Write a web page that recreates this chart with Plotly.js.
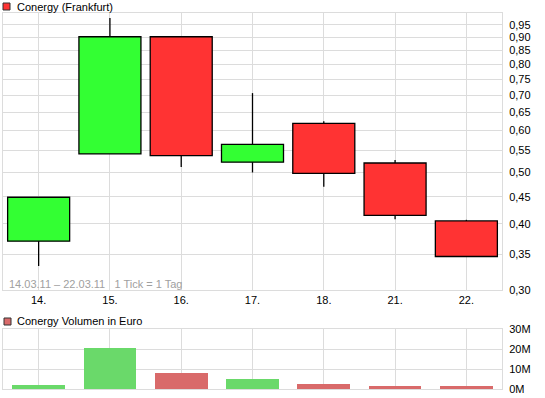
<!DOCTYPE html>
<html>
<head>
<meta charset="utf-8">
<script src="https://cdn.plot.ly/plotly-3.0.1.min.js"></script>
<style>html,body{margin:0;padding:0;background:#fff;}#chart{width:545px;height:398px;}</style>
</head>
<body>
<div id="chart"></div>
<script>
// ---- data ----
const categories = ['14.', '15.', '16.', '17.', '18.', '21.', '22.'];
const openVals  = [0.371, 0.542, 0.902, 0.523, 0.619, 0.521, 0.405];
const closeVals = [0.449, 0.902, 0.538, 0.565, 0.498, 0.415, 0.347];
const highVals  = [0.449, 0.978, 0.902, 0.706, 0.625, 0.528, 0.407];
const lowVals   = [0.333, 0.542, 0.512, 0.500, 0.470, 0.408, 0.347];
const volumeVals = [2.0e6, 20.6e6, 8.1e6, 5.0e6, 2.5e6, 1.5e6, 1.5e6];
const priceTicks = [0.30, 0.35, 0.40, 0.45, 0.50, 0.55, 0.60, 0.65, 0.70, 0.75, 0.80, 0.85, 0.90, 0.95];
const volTicks = [0, 1e7, 2e7, 3e7];
const volTickText = ['0M', '10M', '20M', '30M'];
const titleMain = 'Conergy (Frankfurt)';
const titleVol = 'Conergy Volumen in Euro';
const rangeNote = '14.03.11 \u2013 22.03.11   1 Tick = 1 Tag';

// ---- derived ----
const up = openVals.map((o, i) => closeVals[i] >= o);
const bodyBase = openVals.map((o, i) => Math.min(o, closeVals[i]));
const bodyLen = openVals.map((o, i) => Math.abs(closeVals[i] - o));
const wx = [], wy = [];
categories.forEach((c, i) => {
  const top = Math.max(openVals[i], closeVals[i]);
  const bot = Math.min(openVals[i], closeVals[i]);
  if (highVals[i] > top) { wx.push(c, c, null); wy.push(top, highVals[i], null); }
  if (lowVals[i] < bot) { wx.push(c, c, null); wy.push(lowVals[i], bot, null); }
});

const GREEN = '#33ff33', RED = '#ff3333';
const VGREEN = '#6ad96a', VRED = '#d96a6a';
const GRID = '#dcdcdc';
const FONT = 'Liberation Sans, Arial, sans-serif';

const traces = [
  { type: 'scatter', mode: 'lines', x: wx, y: wy, xaxis: 'x', yaxis: 'y',
    line: { color: '#000', width: 1.3 }, hoverinfo: 'skip', showlegend: false },
  { type: 'bar', x: categories, y: bodyLen, base: bodyBase, xaxis: 'x', yaxis: 'y',
    width: 0.87, marker: { color: up.map(u => u ? GREEN : RED), line: { color: '#000', width: 1.3 } },
    showlegend: false },
  { type: 'bar', x: categories, y: volumeVals, xaxis: 'x2', yaxis: 'y2',
    width: 0.74, marker: { color: up.map(u => u ? VGREEN : VRED), line: { width: 0 } },
    showlegend: false }
];

const L = 3, R = 502, T = 13, B = 389;
const W = R - L, H = B - T;
const px = x => (x - L) / W;
const py = y => (B - y) / H;

const layout = {
  width: 545, height: 398,
  margin: { l: L, r: 545 - R, t: T, b: 398 - B, pad: 0 },
  paper_bgcolor: '#fff', plot_bgcolor: '#fff',
  separators: ',.',
  font: { family: FONT, size: 11, color: '#000' },
  showlegend: false,
  bargap: 0,
  xaxis: { type: 'category', range: [-0.5, 6.5], domain: [0, 1], anchor: 'y',
    showgrid: true, gridcolor: GRID, gridwidth: 1, showline: true, linecolor: GRID, linewidth: 1, mirror: true,
    ticks: '', tickfont: { size: 11, color: '#000' }, fixedrange: true },
  yaxis: { type: 'log', range: [Math.log10(0.3), 0], domain: [py(290), 1], side: 'right', anchor: 'x',
    tickvals: priceTicks, tickformat: '.2f',
    showgrid: true, gridcolor: GRID, gridwidth: 1, showline: true, linecolor: GRID, mirror: true,
    ticks: 'outside', ticklen: 4, tickcolor: 'rgba(0,0,0,0)', tickfont: { size: 11, color: '#000' }, zeroline: false },
  xaxis2: { type: 'category', range: [-0.5, 6.5], domain: [0, 1], anchor: 'y2', matches: 'x',
    showgrid: true, gridcolor: GRID, showline: true, linecolor: GRID, mirror: true,
    showticklabels: false, ticks: '' },
  yaxis2: { range: [0, 3e7], domain: [0, py(329)], side: 'right', anchor: 'x2',
    tickvals: volTicks, ticktext: volTickText,
    showgrid: true, gridcolor: GRID, showline: true, linecolor: GRID, mirror: true, zeroline: false,
    ticks: 'outside', ticklen: 4, tickcolor: 'rgba(0,0,0,0)', tickfont: { size: 11, color: '#000' } },
  shapes: [
    { type: 'rect', xref: 'paper', yref: 'paper', x0: px(3), x1: px(10), y0: py(10), y1: py(3),
      fillcolor: RED, line: { color: '#333', width: 1 } },
    { type: 'rect', xref: 'paper', yref: 'paper', x0: px(4), x1: px(11), y0: py(325), y1: py(318),
      fillcolor: VRED, line: { color: '#333', width: 1 } }
  ],
  annotations: [
    { text: titleMain, xref: 'paper', yref: 'paper', x: px(15), y: py(7), xanchor: 'left', yanchor: 'middle',
      showarrow: false, font: { size: 11, color: '#000' } },
    { text: titleVol, xref: 'paper', yref: 'paper', x: px(15), y: py(321), xanchor: 'left', yanchor: 'middle',
      showarrow: false, font: { size: 11, color: '#000' } },
    { text: rangeNote, xref: 'paper', yref: 'paper', x: px(7), y: py(284), xanchor: 'left', yanchor: 'middle',
      showarrow: false, font: { size: 11, color: '#a0a0a0' } }
  ]
};

Plotly.newPlot('chart', traces, layout, { displayModeBar: false, staticPlot: true });
</script>
</body>
</html>
